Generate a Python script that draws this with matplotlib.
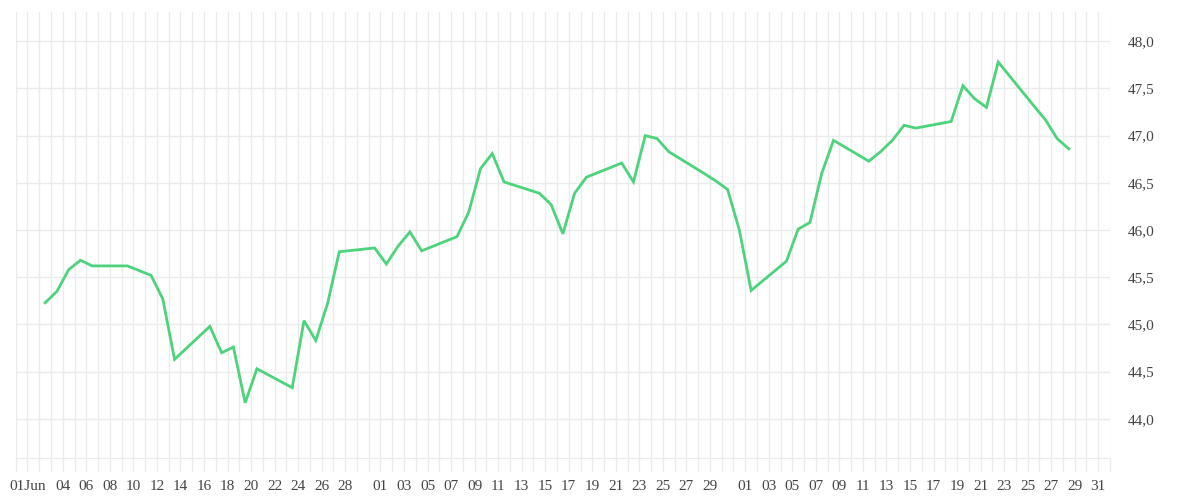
import matplotlib
matplotlib.use("Agg")
import matplotlib.pyplot as plt
import matplotlib.dates as mdates
from matplotlib.ticker import FixedLocator, FuncFormatter
import pandas as pd

# daily closing values (weekdays only), 2019
dates = [
    "2019-06-03", "2019-06-04", "2019-06-05", "2019-06-06", "2019-06-07",
    "2019-06-10", "2019-06-11", "2019-06-12", "2019-06-13", "2019-06-14",
    "2019-06-17", "2019-06-18", "2019-06-19", "2019-06-20", "2019-06-21",
    "2019-06-24", "2019-06-25", "2019-06-26", "2019-06-27", "2019-06-28",
    "2019-07-01", "2019-07-02", "2019-07-03", "2019-07-04", "2019-07-05",
    "2019-07-08", "2019-07-09", "2019-07-10", "2019-07-11", "2019-07-12",
    "2019-07-15", "2019-07-16", "2019-07-17", "2019-07-18", "2019-07-19",
    "2019-07-22", "2019-07-23", "2019-07-24", "2019-07-25", "2019-07-26",
    "2019-07-29", "2019-07-30", "2019-07-31", "2019-08-01", "2019-08-02",
    "2019-08-05", "2019-08-06", "2019-08-07", "2019-08-08", "2019-08-09",
    "2019-08-12", "2019-08-13", "2019-08-14", "2019-08-15", "2019-08-16",
    "2019-08-19", "2019-08-20", "2019-08-21", "2019-08-22", "2019-08-23",
    "2019-08-26", "2019-08-27", "2019-08-28", "2019-08-29",
]
values = [
    45.23, 45.35, 45.58, 45.68, 45.62,
    45.62, 45.57, 45.52, 45.27, 44.63,
    44.98, 44.70, 44.76, 44.17, 44.53,
    44.33, 45.04, 44.83, 45.22, 45.77,
    45.81, 45.64, 45.83, 45.98, 45.78,
    45.93, 46.19, 46.65, 46.81, 46.51,
    46.39, 46.27, 45.96, 46.39, 46.56,
    46.71, 46.51, 47.00, 46.97, 46.83,
    46.60, 46.52, 46.43, 46.00, 45.36,
    45.67, 46.01, 46.08, 46.60, 46.95,
    46.73, 46.83, 46.95, 47.11, 47.08,
    47.15, 47.53, 47.39, 47.30, 47.78,
    47.32, 47.17, 46.97, 46.86,
]

june_days = [1] + list(range(4, 29, 2))
july_days = list(range(1, 30, 2))
aug_days = list(range(1, 32, 2))
y_ticks = [44.0, 44.5, 45.0, 45.5, 46.0, 46.5, 47.0, 47.5, 48.0]

grid_col = "#ebebeb"
text_col = "#444444"
line_col = "#4cd37b"

plt.rcParams["font.family"] = ["Liberation Serif", "DejaVu Serif"]

# points are shown half a day before midnight (timezone shift)
x = pd.to_datetime(dates) - pd.Timedelta(hours=12)

tick_dates = ([pd.Timestamp(2019, 6, d) for d in june_days]
              + [pd.Timestamp(2019, 7, d) for d in july_days]
              + [pd.Timestamp(2019, 8, d) for d in aug_days])
tick_labels = ["01Jun"] + [t.strftime("%d") for t in tick_dates[1:]]

fig = plt.figure(figsize=(12, 5), dpi=100)
ax = fig.add_axes([0.0131, 0.084, 0.9119, 0.892])

ax.plot(x, values, color=line_col, lw=2.0, solid_joinstyle="miter", zorder=3)

ax.set_xlim(pd.Timestamp(2019, 5, 31), pd.Timestamp(2019, 9, 1))
ax.set_ylim(43.585, 48.31)

ax.xaxis.set_major_locator(FixedLocator(mdates.date2num(tick_dates)))
ax.set_xticklabels(tick_labels)
ax.xaxis.set_minor_locator(mdates.DayLocator())
ax.tick_params(axis="x", which="both", length=10, width=1, color=grid_col,
               labelsize=11, labelcolor=text_col, pad=6)

ax.yaxis.tick_right()
ax.set_yticks(y_ticks)
ax.yaxis.set_major_formatter(FuncFormatter(lambda v, p: f"{v:.1f}".replace(".", ",")))
ax.tick_params(axis="y", length=0, labelsize=11, labelcolor=text_col, pad=12.5)

ax.grid(True, which="both", axis="x", color=grid_col, lw=1)
ax.grid(True, which="major", axis="y", color=grid_col, lw=1)

for s in ["top", "left", "right"]:
    ax.spines[s].set_visible(False)
ax.spines["bottom"].set_color(grid_col)

fig.savefig("out.png", dpi=100)
